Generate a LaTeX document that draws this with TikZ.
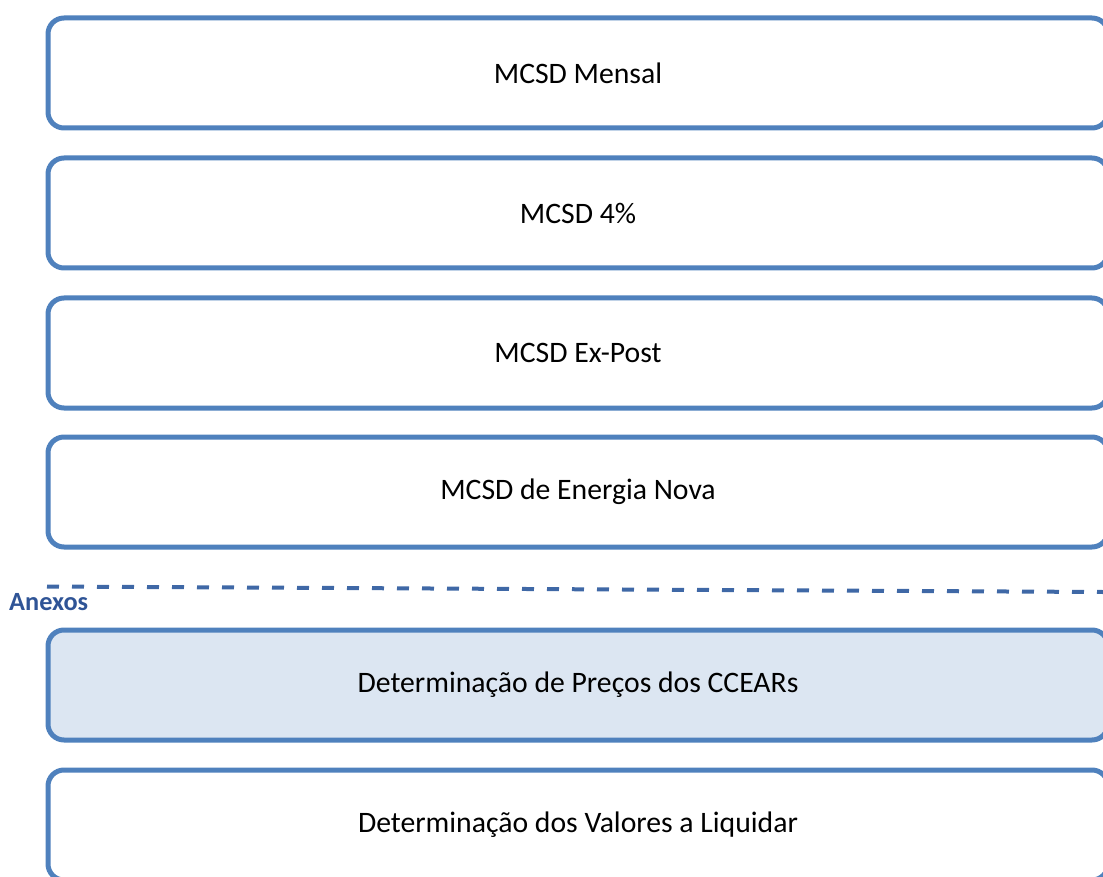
\documentclass[tikz,border=0pt]{standalone}
\usepackage{fontspec}
\setmainfont{Carlito}
\definecolor{boxline}{HTML}{4F81BD}
\definecolor{boxfill}{HTML}{DCE6F2}
\definecolor{dashcol}{HTML}{3F68A6}
\definecolor{anexcol}{HTML}{2F5496}
\begin{document}
\begin{tikzpicture}[x=1pt,y=-1pt,
  stepbox/.style={draw=boxline, line width=5pt, rounded corners=16pt, fill=white,
    minimum width=1060pt, minimum height=110pt, inner sep=0pt,
    font=\fontsize{29.7}{35}\selectfont, text=black},
  hilite/.style={fill=boxfill}]
\useasboundingbox (0,0) rectangle (1103,877);
\clip (0,0) rectangle (1103,877);
\node[stepbox] (b1) at (578,73) {MCSD Mensal};
\node[stepbox] (b2) at (578,213) {MCSD 4\%};
\node[stepbox] (b3) at (578,353) {MCSD Ex-Post};
\node[stepbox] (b4) at (578,492) {MCSD de Energia Nova};
\node[stepbox,hilite] (b5) at (578,685) {Determinação de Preços dos CCEARs};
\node[stepbox] (b6) at (578,825) {Determinação dos Valores a Liquidar};
\coordinate (dl) at (47,586.5);
\coordinate (dr) at (1103,592);
\draw[dashcol, line width=4pt, dash pattern=on 12pt off 13pt] (dl) -- (dr);
\node[anchor=west, inner sep=0pt, text=anexcol, font=\fontsize{26.3}{31}\selectfont\bfseries] (anx) at (9,602) {Anexos};
\end{tikzpicture}
\end{document}
